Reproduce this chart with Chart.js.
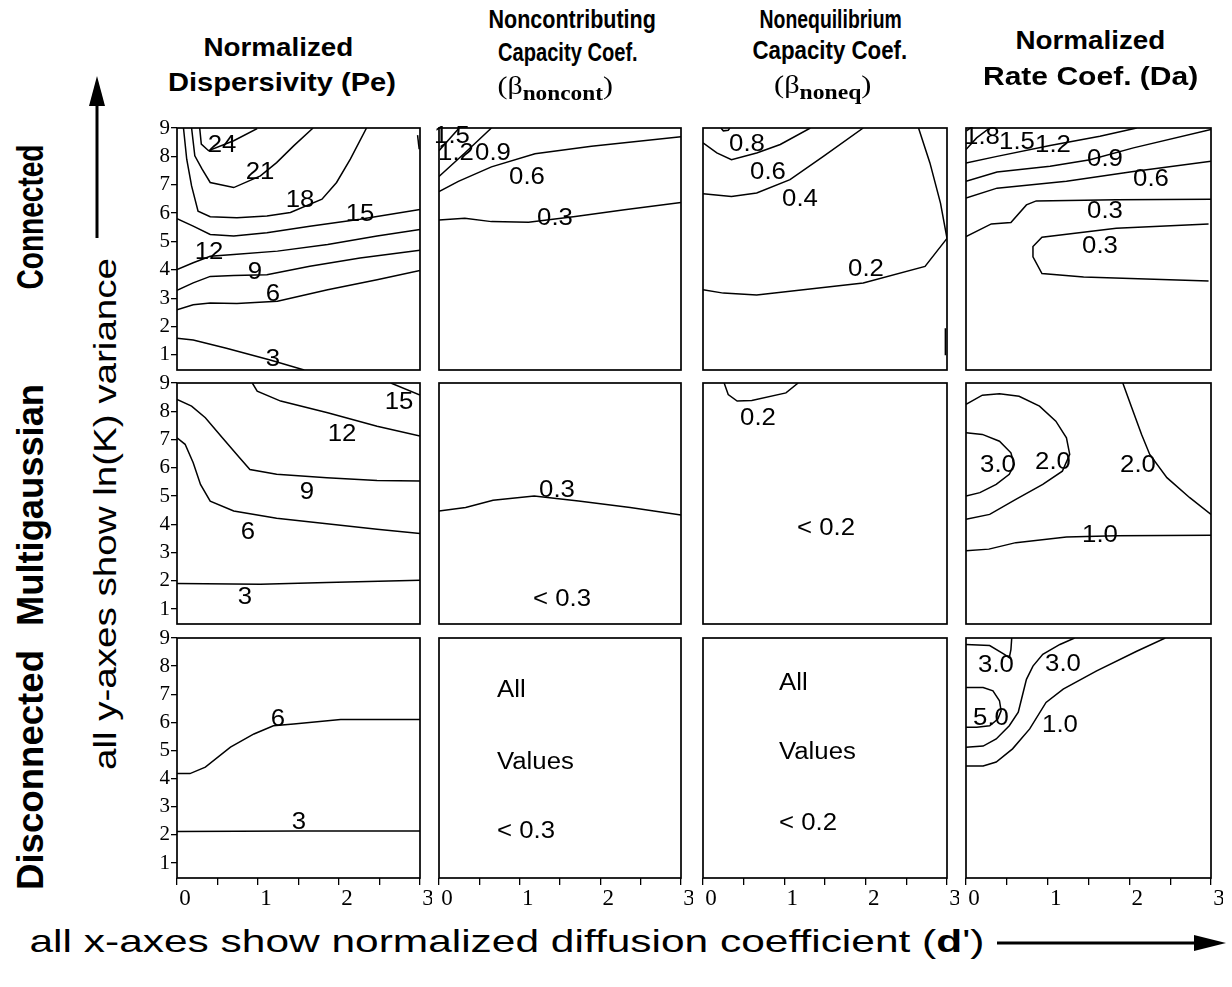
<!DOCTYPE html>
<html><head><meta charset="utf-8">
<script src="https://cdn.jsdelivr.net/npm/chart.js@4.4.1/dist/chart.umd.min.js"></script>
<style>
html,body{margin:0;padding:0;background:#fff;}
body{width:1232px;height:987px;position:relative;overflow:hidden;font-family:"Liberation Sans",Arial,sans-serif;color:#000;}
.panel{position:absolute;}
.panel canvas{position:absolute;left:0;top:0;}
.lbl{position:absolute;white-space:nowrap;font-size:23px;line-height:1;transform:translate(-50%,-50%) scaleX(1.12);}
.lbl.left{transform:translate(0,-50%) scaleX(1.12);transform-origin:0 50%;}
.txt{position:absolute;white-space:nowrap;line-height:1;transform-origin:50% 50%;}
.txt sub{font-weight:bold;font-size:0.78em;vertical-align:-0.3em;line-height:0;}
svg.arrow{position:absolute;left:0;top:0;}
</style></head><body>
<svg class="arrow" width="1232" height="987">
  <line x1="97" y1="238" x2="97" y2="100" stroke="#000" stroke-width="3"/>
  <polygon points="97,76 89,106 105,106" fill="#000"/>
  <line x1="997" y1="943" x2="1200" y2="943" stroke="#000" stroke-width="3"/>
  <polygon points="1226,943 1194,935 1194,951" fill="#000"/>
</svg>
<script>
// ---------- axes ----------
const xTicks = [0, 0.5, 1, 1.5, 2, 2.5, 3];
const xTickLabels = ['0', '', '1', '', '2', '', '3'];
const yTicks = [1, 2, 3, 4, 5, 6, 7, 8, 9];
const yTickLabels = ['1', '2', '3', '4', '5', '6', '7', '8', '9'];

// ---------- Connected / Pe ----------
const pe_con_24 = [[0.28,9],[0.30,8.43],[0.39,8.20],[0.70,8.55],[0.99,8.98]];
const pe_con_21 = [[0.18,9],[0.22,8.02],[0.31,7.55],[0.41,7.08],[0.70,6.90],[1.03,7.31],[1.23,7.78],[1.44,8.37],[1.68,9]];
const pe_con_18 = [[0.08,9],[0.12,7.90],[0.18,6.96],[0.26,6.07],[0.41,5.87],[0.74,5.84],[1.11,5.90],[1.40,6.02],[1.79,6.49],[1.97,7.08],[2.14,7.90],[2.34,9]];
const pe_con_18b = [[2.97,8.75],[2.99,8.25]];
const pe_con_15 = [[0,5.80],[0.20,5.54],[0.41,5.25],[0.70,5.19],[1.11,5.31],[1.64,5.54],[2.26,5.78],[3,6.13]];
const pe_con_12 = [[0,4.01],[0.20,4.25],[0.41,4.48],[0.70,4.54],[1.24,4.66],[1.86,4.89],[2.47,5.19],[3,5.42]];
const pe_con_9 = [[0,3.28],[0.20,3.54],[0.41,3.77],[0.70,3.80],[1.11,3.83],[1.64,4.13],[2.26,4.42],[3,4.69]];
const pe_con_6 = [[0,2.59],[0.20,2.77],[0.41,2.83],[0.74,2.81],[1.24,2.89],[1.86,3.30],[2.47,3.65],[3,3.98]];
const pe_con_3 = [[0,1.59],[0.20,1.53],[0.61,1.24],[1.15,0.82],[1.57,0.47]];
const pe_con_labels = [['24',0.55,8.43],['21',1.03,7.49],['18',1.52,6.49],['15',2.26,6.02],['12',0.39,4.66],['9',0.965,3.95],['6',1.19,3.18],['3',1.19,0.88]];

// ---------- Connected / beta noncont ----------
const bnc_con_15 = [[0,8.2],[0.25,9]];
const bnc_con_12 = [[0,7.29],[0.32,8.12],[0.65,9]];
const bnc_con_06 = [[0,6.76],[0.24,7.12],[0.65,7.63],[1.19,8.09],[1.89,8.36],[3,8.69]];
const bnc_con_03 = [[0,5.76],[0.32,5.82],[0.65,5.70],[1.11,5.68],[1.69,5.88],[2.30,6.12],[3,6.37]];
const bnc_con_labels = [['1.5',0.16,8.77],['1.2',0.21,8.15],['0.9',0.67,8.15],['0.6',1.09,7.32],['0.3',1.44,5.88]];

// ---------- Connected / beta noneq ----------
const bne_con_10 = [[0.22,9],[0.25,8.9],[0.31,8.92],[0.33,9]];
const bne_con_08 = [[0,8.48],[0.17,8.12],[0.35,7.88],[0.66,8.12],[0.95,8.42],[1.32,9]];
const bne_con_06 = [[0,6.68],[0.35,6.59],[0.66,6.71],[1.07,7.18],[1.48,8.0],[1.97,9]];
const bne_con_04 = [[2.65,9],[2.79,7.77],[2.92,6.35],[3,5.11]];
const bne_con_02 = [[3,5.11],[2.73,4.12],[1.97,3.54],[0.66,3.11],[0.25,3.18],[0,3.30]];
const bne_con_edge = [[2.98,1.94],[2.98,0.99]];
const bne_con_labels = [['0.8',0.54,8.48],['0.6',0.80,7.47],['0.4',1.19,6.53],['0.2',2.01,4.06]];

// ---------- Connected / Da ----------
const da_con_18 = [[0,8.24],[0.13,8.65],[0.29,9]];
const da_con_15 = [[0,7.77],[0.38,8.0],[1.03,8.38],[1.64,8.71],[2.09,9]];
const da_con_12 = [[0,7.12],[0.38,7.45],[1.03,7.65],[1.52,7.88],[2.05,8.30],[3,8.95]];
const da_con_09 = [[0,6.53],[0.38,6.88],[1.23,7.12],[2.05,7.47],[3,7.83]];
const da_con_03a = [[0,5.17],[0.31,5.62],[0.55,5.67],[0.74,6.29],[0.86,6.43],[1.84,6.47],[3,6.49]];
const da_con_03b = [[2.97,5.62],[1.84,5.47],[0.93,5.15],[0.82,4.82],[0.82,4.46],[0.93,3.87],[1.44,3.75],[2.97,3.61]];
const da_con_labels = [['1.8',0.19,8.71],['1.5',0.62,8.53],['1.2',1.07,8.42],['0.9',1.70,7.94],['0.6',2.27,7.24],['0.3',1.70,6.12],['0.3',1.64,4.88]];

// ---------- Multigaussian / Pe ----------
const pe_mg_15 = [[2.64,9],[3,8.57]];
const pe_mg_12 = [[0.93,9],[0.99,8.71],[1.28,8.36],[1.86,7.95],[2.47,7.47],[3,7.12]];
const pe_mg_9 = [[0,8.42],[0.18,8.18],[0.35,7.77],[0.56,7.06],[0.77,6.36],[0.90,5.94],[1.23,5.77],[1.85,5.65],[2.47,5.55],[3,5.53]];
const pe_mg_6 = [[0,7.06],[0.10,6.83],[0.20,6.18],[0.29,5.41],[0.41,4.82],[0.70,4.47],[1.23,4.21],[1.85,4.02],[2.47,3.82],[3,3.67]];
const pe_mg_3 = [[0,1.90],[1.03,1.88],[1.85,1.94],[3,2.02]];
const pe_mg_labels = [['15',2.74,8.36],['12',2.04,7.24],['9',1.61,5.18],['6',0.88,3.76],['3',0.84,1.47]];

// ---------- Multigaussian / beta noncont ----------
const bnc_mg_03 = [[0,4.47],[0.33,4.59],[0.67,4.85],[1.18,5.0],[1.73,4.82],[2.37,4.59],[3,4.33]];
const bnc_mg_labels = [['0.3',1.46,5.24],['< 0.3',1.52,1.38]];

// ---------- Multigaussian / beta noneq ----------
const bne_mg_02 = [[0.26,9],[0.31,8.59],[0.42,8.36],[0.60,8.38],[1.02,8.65],[1.17,9]];
const bne_mg_labels = [['0.2',0.68,7.78],['< 0.2',1.51,3.89]];

// ---------- Multigaussian / Da ----------
const da_mg_30 = [[0,7.24],[0.20,7.18],[0.41,6.94],[0.55,6.53],[0.59,6.12],[0.53,5.77],[0.37,5.41],[0.17,5.12],[0,5.0]];
const da_mg_20a = [[0,8.24],[0.20,8.57],[0.41,8.62],[0.65,8.53],[0.90,8.18],[1.10,7.65],[1.23,7.06],[1.27,6.47],[1.18,5.88],[0.94,5.41],[0.61,4.88],[0.29,4.35],[0,4.18]];
const da_mg_20b = [[1.92,9],[2.03,8.12],[2.15,7.18],[2.25,6.47],[2.46,5.65],[2.74,4.94],[3,4.35]];
const da_mg_10 = [[0,3.06],[0.28,3.12],[0.61,3.35],[1.23,3.55],[1.84,3.59],[3,3.61]];
const da_mg_labels = [['3.0',0.39,6.12],['2.0',1.06,6.24],['2.0',2.11,6.12],['1.0',1.64,3.65]];

// ---------- Disconnected / Pe ----------
const pe_dis_6 = [[0,4.18],[0.16,4.18],[0.35,4.41],[0.66,5.12],[0.95,5.59],[1.19,5.88],[1.44,5.94],[2.02,6.10],[3,6.10]];
const pe_dis_3 = [[0,2.12],[1.5,2.14],[3,2.14]];
const pe_dis_labels = [['6',1.25,6.14],['3',1.50,2.50]];

// ---------- Disconnected / beta (text only) ----------
const bnc_dis_labels = [['All',0.72,7.18,'left'],['Values',0.72,4.64,'left'],['< 0.3',0.72,2.16,'left']];
const bne_dis_labels = [['All',0.93,7.43,'left'],['Values',0.93,4.99,'left'],['< 0.2',0.93,2.45,'left']];

// ---------- Disconnected / Da ----------
const da_dis_30a = [[0,8.77],[0.29,8.73],[0.47,8.42],[0.53,8.30],[0.55,8.59],[0.56,9]];
const da_dis_50 = [[0,7.24],[0.21,7.24],[0.33,7.12],[0.41,6.77],[0.43,6.41],[0.39,6.12],[0.29,5.88],[0.13,5.83],[0,5.83]];
const da_dis_30b = [[1.33,9],[1.15,8.77],[0.94,8.42],[0.82,8.0],[0.74,7.53],[0.68,6.83],[0.64,6.36],[0.53,5.88],[0.37,5.41],[0.21,5.16],[0,5.12]];
const da_dis_10 = [[2.44,9],[2.09,8.53],[1.60,7.83],[1.19,7.18],[0.98,6.71],[0.78,5.77],[0.57,5.06],[0.37,4.59],[0.21,4.45],[0,4.45]];
const da_dis_labels = [['3.0',0.37,8.06],['3.0',1.19,8.12],['5.0',0.30,6.18],['1.0',1.15,5.94]];

// ---------- layout ----------
const COLS = [{l:177,r:420},{l:439,r:681},{l:703,r:947},{l:966,r:1211}];
const ROWS = [{t:128,b:370},{t:383,b:624},{t:638,b:878}];

const panels = [
  {row:0,col:0,lines:[pe_con_24,pe_con_21,pe_con_18,pe_con_18b,pe_con_15,pe_con_12,pe_con_9,pe_con_6,pe_con_3],labels:pe_con_labels},
  {row:0,col:1,lines:[bnc_con_15,bnc_con_12,bnc_con_06,bnc_con_03],labels:bnc_con_labels},
  {row:0,col:2,lines:[bne_con_10,bne_con_08,bne_con_06,bne_con_04,bne_con_02,bne_con_edge],labels:bne_con_labels},
  {row:0,col:3,lines:[da_con_18,da_con_15,da_con_12,da_con_09,da_con_03a,da_con_03b],labels:da_con_labels},
  {row:1,col:0,lines:[pe_mg_15,pe_mg_12,pe_mg_9,pe_mg_6,pe_mg_3],labels:pe_mg_labels},
  {row:1,col:1,lines:[bnc_mg_03],labels:bnc_mg_labels},
  {row:1,col:2,lines:[bne_mg_02],labels:bne_mg_labels},
  {row:1,col:3,lines:[da_mg_30,da_mg_20a,da_mg_20b,da_mg_10],labels:da_mg_labels},
  {row:2,col:0,lines:[pe_dis_6,pe_dis_3],labels:pe_dis_labels},
  {row:2,col:1,lines:[],labels:bnc_dis_labels},
  {row:2,col:2,lines:[],labels:bne_dis_labels},
  {row:2,col:3,lines:[da_dis_30a,da_dis_50,da_dis_30b,da_dis_10],labels:da_dis_labels}
];

const framePlugin = {
  id:'frame',
  afterDatasetsDraw(chart){
    const {ctx, chartArea:a} = chart;
    ctx.save(); ctx.strokeStyle='#000'; ctx.lineWidth=1.7;
    ctx.strokeRect(a.left, a.top, a.right-a.left, a.bottom-a.top);
    ctx.restore();
  }
};

const padL=44, padT=14, padR=12, padB=36;
panels.forEach(p => {
  const c = COLS[p.col], r = ROWS[p.row];
  const W = c.r - c.l + padL + padR, H = r.b - r.t + padT + padB;
  const wrap = document.createElement('div');
  wrap.className = 'panel';
  wrap.style.left = (c.l - padL) + 'px'; wrap.style.top = (r.t - padT) + 'px';
  wrap.style.width = W + 'px'; wrap.style.height = H + 'px';
  const cv = document.createElement('canvas');
  cv.width = W; cv.height = H; cv.style.width = W + 'px'; cv.style.height = H + 'px';
  wrap.appendChild(cv); document.body.appendChild(wrap);
  const showX = p.row === 2, showY = p.col === 0;
  const chart = new Chart(cv.getContext('2d'), {
    type:'scatter',
    data:{datasets:p.lines.map(l => ({
      data:l.map(([x,y]) => ({x,y})), showLine:true, borderColor:'#000', borderWidth:1.5,
      pointRadius:0, pointHoverRadius:0, tension:0, fill:false
    }))},
    options:{
      responsive:false, animation:false, devicePixelRatio:1, events:[],
      layout:{padding:{left:0, top:padT, right:padR, bottom:0}},
      plugins:{legend:{display:false}, tooltip:{enabled:false}},
      scales:{
        x:{type:'linear', min:0, max:3,
          afterFit:a => { a.height = padB; },
          afterBuildTicks:a => { a.ticks = xTicks.map(v => ({value:v})); },
          ticks:{display:showX, autoSkip:false, maxRotation:0, labelOffset:8, padding:0, color:'#000',
            font:{family:'"Liberation Serif", serif', size:23}, callback:(v,i) => xTickLabels[i]},
          grid:{display:showX, drawOnChartArea:false, drawTicks:true, tickLength:7, color:'#000', lineWidth:1.3},
          border:{display:false}},
        y:{type:'linear', min:0.47, max:9,
          afterFit:a => { a.width = padL; },
          afterBuildTicks:a => { a.ticks = yTicks.map(v => ({value:v})); },
          ticks:{display:showY, autoSkip:false, padding:1, color:'#000',
            font:{family:'"Liberation Serif", serif', size:21}, callback:(v,i) => yTickLabels[i]},
          grid:{display:showY, drawOnChartArea:false, drawTicks:true, tickLength:6, color:'#000', lineWidth:1.3},
          border:{display:false}}
      }
    },
    plugins:[framePlugin]
  });
  p.labels.forEach(([t,x,y,align]) => {
    const el = document.createElement('div');
    el.className = 'lbl' + (align === 'left' ? ' left' : '');
    el.textContent = t;
    el.style.left = chart.scales.x.getPixelForValue(x) + 'px';
    el.style.top = chart.scales.y.getPixelForValue(y) + 'px';
    wrap.appendChild(el);
  });
});

// ---------- text ----------
function placeText(html, cx, cy, targetW, size, bold, rotate, family) {
  const el = document.createElement('div');
  el.className = 'txt';
  el.innerHTML = html;
  el.style.fontSize = size + 'px';
  el.style.fontWeight = bold ? 'bold' : 'normal';
  if (family) el.style.fontFamily = family;
  document.body.appendChild(el);
  const w = el.offsetWidth, h = el.offsetHeight;
  const s = targetW / w;
  el.style.left = (cx - w/2) + 'px';
  el.style.top = (cy - h/2) + 'px';
  el.style.transform = (rotate ? 'rotate(-90deg) ' : '') + 'scaleX(' + s + ')';
}
const titleFont = 25;
placeText('Normalized', 278, 47, 150, titleFont, true);
placeText('Dispersivity (Pe)', 282, 82, 228, titleFont, true);
placeText('Noncontributing', 572, 19, 167, titleFont, true);
placeText('Capacity Coef.', 568, 52, 140, titleFont, true);
placeText('(β<sub>noncont</sub>)', 555, 86, 115, 26, false, false, '"Liberation Serif", serif');
placeText('Nonequilibrium', 830, 19, 142, titleFont, true);
placeText('Capacity Coef.', 830, 50, 155, titleFont, true);
placeText('(β<sub>noneq</sub>)', 823, 85, 98, 26, false, false, '"Liberation Serif", serif');
placeText('Normalized', 1090, 40, 150, titleFont, true);
placeText('Rate Coef. (Da)', 1090, 76, 215, titleFont, true);

placeText('Connected', 31, 217, 145, 36, true, true);
placeText('Multigaussian', 31, 505, 242, 36, true, true);
placeText('Disconnected', 31, 770, 240, 36, true, true);
placeText('all y-axes show ln(K) variance', 104, 514, 512, 32, false, true);
placeText("all x-axes show normalized diffusion coefficient (<b>d</b>')", 507, 941, 955, 32, false, false);
</script>
</body></html>
